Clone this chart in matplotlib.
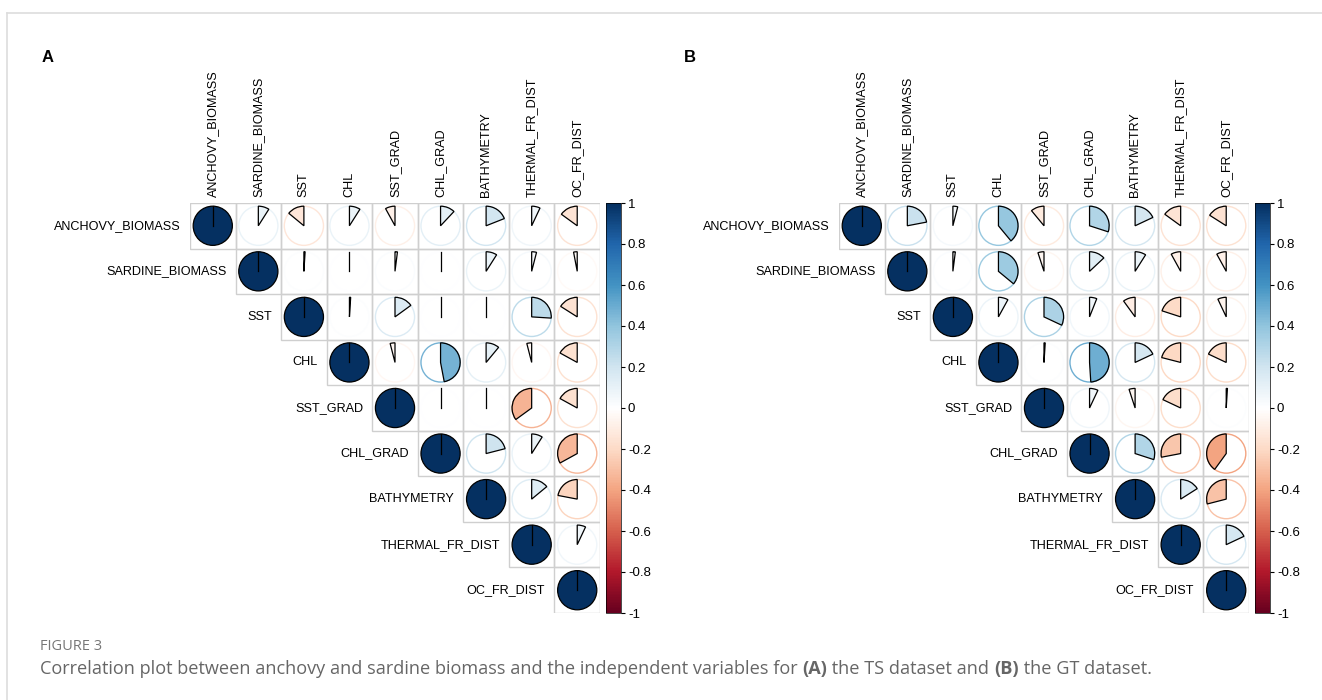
import numpy as np
import matplotlib
matplotlib.use("Agg")
import matplotlib.pyplot as plt
from matplotlib.patches import Wedge, Circle, Rectangle
from matplotlib.colors import LinearSegmentedColormap, Normalize
from matplotlib.cm import ScalarMappable

plt.rcParams['font.family'] = ['Liberation Sans', 'DejaVu Sans']

variables = ["ANCHOVY_BIOMASS", "SARDINE_BIOMASS", "SST", "CHL", "SST_GRAD",
             "CHL_GRAD", "BATHYMETRY", "THERMAL_FR_DIST", "OC_FR_DIST"]

# upper triangle rows (diagonal first), panel A: TS dataset
corr_ts = [
    [1, 0.09, -0.14, 0.09, -0.08, 0.12, 0.19, 0.07, -0.15],
    [1, 0.01, 0.0, 0.02, 0.0, 0.09, 0.04, -0.03],
    [1, 0.01, 0.15, 0.0, 0.0, 0.26, -0.16],
    [1, -0.04, 0.47, 0.11, -0.04, -0.17],
    [1, 0.0, 0.0, -0.35, -0.17],
    [1, 0.21, 0.09, -0.33],
    [1, 0.14, -0.22],
    [1, 0.07],
    [1],
]

# panel B: GT dataset
corr_gt = [
    [1, 0.22, 0.04, 0.39, -0.11, 0.30, 0.18, -0.15, -0.16],
    [1, 0.02, 0.36, -0.05, 0.13, 0.09, -0.08, -0.08],
    [1, 0.08, 0.32, 0.06, -0.10, -0.20, -0.07],
    [1, 0.01, 0.49, 0.18, -0.21, -0.18],
    [1, 0.07, -0.05, -0.18, 0.01],
    [1, 0.30, -0.28, -0.40],
    [1, 0.16, -0.29],
    [1, 0.18],
    [1],
]

cbar_ticks = [1, 0.8, 0.6, 0.4, 0.2, 0, -0.2, -0.4, -0.6, -0.8, -1]

cmap = LinearSegmentedColormap.from_list(
    "corr", ["#67001F", "#B2182B", "#D6604D", "#F4A582", "#FDDBC7", "#FFFFFF",
             "#D1E5F0", "#92C5DE", "#4393C3", "#2166AC", "#053061"])
norm = Normalize(-1, 1)

W, H = 1322, 700
fig = plt.figure(figsize=(W / 100, H / 100), dpi=100)


def px_axes(x0, y0, x1, y1):
    return fig.add_axes([x0 / W, 1 - y1 / H, (x1 - x0) / W, (y1 - y0) / H])


def draw_panel(ax, cax, corr, letter, letter_x):
    n = len(variables)
    ax.set_xlim(0, n)
    ax.set_ylim(0, n)
    ax.axis('off')
    r = 0.43
    for i in range(n):
        yc = n - i - 0.5
        for k, v in enumerate(corr[i]):
            j = i + k
            xc = j + 0.5
            ax.add_patch(Rectangle((j, n - i - 1), 1, 1, fill=False,
                                   edgecolor='#cfcfcf', lw=1.0, zorder=1))
            col = cmap(norm(v))
            if k == 0:
                ax.add_patch(Circle((xc, yc), r, facecolor=col, edgecolor='black',
                                    lw=0.9, zorder=3))
                ax.plot([xc, xc], [yc, yc + r], color='black', lw=0.9, zorder=4)
                continue
            ax.add_patch(Circle((xc, yc), r, fill=False, edgecolor=col, lw=1.0, zorder=2))
            ang = 360 * abs(v)
            if v >= 0:
                t1, t2 = 90 - ang, 90
            else:
                t1, t2 = 90, 90 + ang
            if ang < 1.5:
                ax.plot([xc, xc], [yc, yc + r], color='black', lw=0.9, zorder=4)
            else:
                ax.add_patch(Wedge((xc, yc), r, t1, t2, facecolor=col,
                                   edgecolor='black', lw=0.9, zorder=3))
        ax.text(i - 0.2, yc, variables[i], ha='right', va='center',
                fontsize=9.1, clip_on=False)
        ax.text(i + 0.5, n + 0.13, variables[i], ha='center', va='bottom',
                rotation=90, fontsize=9.1, clip_on=False)

    cb = fig.colorbar(ScalarMappable(norm=norm, cmap=cmap), cax=cax)
    cb.set_ticks(cbar_ticks)
    cb.set_ticklabels([f"{t:g}" for t in cbar_ticks])
    cb.outline.set_linewidth(0.5)
    cax.tick_params(labelsize=9.5, length=3, width=0.8, pad=2)

    fig.text(letter_x / W, 1 - 57 / H, letter, fontsize=12, fontweight='bold',
             ha='left', va='center')


ax_a = px_axes(190, 203, 600, 613)
cax_a = px_axes(606, 203, 621, 613)
draw_panel(ax_a, cax_a, corr_ts, "A", 42)

ax_b = px_axes(839, 203, 1249, 613)
cax_b = px_axes(1255, 203, 1270, 613)
draw_panel(ax_b, cax_b, corr_gt, "B", 684)

# page frame lines
fig.add_artist(plt.Line2D([7 / W, 1], [1 - 13 / H, 1 - 13 / H], color='#dddddd', lw=1.2))
fig.add_artist(plt.Line2D([7 / W, 7 / W], [0, 1 - 13 / H], color='#dddddd', lw=1.2))

# caption
cap_font = ['Open Sans', 'DejaVu Sans']
fig.text(40 / W, 1 - 646 / H, "FIGURE 3", fontsize=10.5, color='#777777',
         family=cap_font, va='center')

pieces = [
    ("Correlation plot between anchovy and sardine biomass and the independent variables for ", 'normal'),
    ("(A)", 'bold'),
    (" the TS dataset and ", 'normal'),
    ("(B)", 'bold'),
    (" the GT dataset.", 'normal'),
]
renderer = fig.canvas.get_renderer()
x = 40
for txt, wt in pieces:
    t = fig.text(x / W, 1 - 669 / H, txt, fontsize=13.1, color='#666666',
                 family=cap_font, fontweight=wt, va='center')
    bb = t.get_window_extent(renderer=renderer)
    x += bb.width

fig.savefig("out.png", dpi=100)
